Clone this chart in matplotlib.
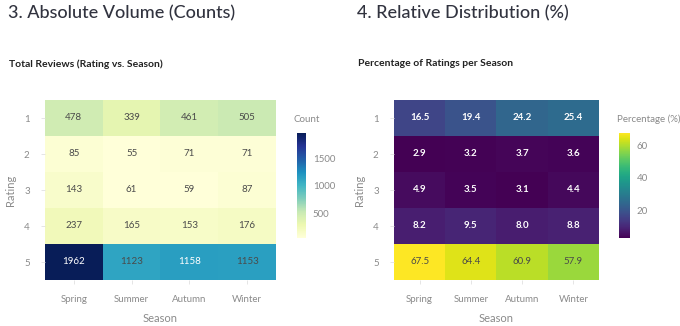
import matplotlib
matplotlib.use("Agg")
import matplotlib.pyplot as plt
import numpy as np

plt.rcParams['font.family'] = ['Lato', 'DejaVu Sans']

seasons = ["Spring", "Summer", "Autumn", "Winter"]
ratings = ["1", "2", "3", "4", "5"]
counts = [
    [478, 339, 461, 505],
    [85, 55, 71, 71],
    [143, 61, 59, 87],
    [237, 165, 153, 176],
    [1962, 1123, 1158, 1153],
]
percents = [
    [16.5, 19.4, 24.2, 25.4],
    [2.9, 3.2, 3.7, 3.6],
    [4.9, 3.5, 3.1, 4.4],
    [8.2, 9.5, 8.0, 8.8],
    [67.5, 64.4, 60.9, 57.9],
]
count_ticks = [500, 1000, 1500]
pct_ticks = [20, 40, 60]

W, H = 680, 326
fig = plt.figure(figsize=(W / 100, H / 100), dpi=100)
fig.patch.set_facecolor("white")

def fx(px):
    return px / W

def fy(py):
    return 1 - py / H

GREY = "#8a8a8a"
DARK = "#4a4a4a"

def heat(ax_rect, cax_rect, data, cmap, fmt, ticks, cbtitle, cbtitle_x, white_fn, bold_white):
    data = np.array(data, dtype=float)
    ax = fig.add_axes(ax_rect)
    vmin, vmax = data.min(), data.max()
    im = ax.imshow(data, cmap=cmap, vmin=vmin, vmax=vmax, aspect="auto",
                   interpolation="nearest")
    ax.set_xticks(range(len(seasons)))
    ax.set_xticklabels(seasons)
    ax.set_yticks(range(len(ratings)))
    ax.set_yticklabels(ratings)
    ax.tick_params(axis="both", colors="#e0e0e0", labelcolor=GREY, labelsize=7,
                   length=3, width=0.6)
    ax.tick_params(axis="x", pad=8)
    ax.tick_params(axis="y", pad=8)
    for s in ax.spines.values():
        s.set_visible(False)
    ax.set_xlabel("Season", color=GREY, fontsize=8, labelpad=6)
    ax.set_ylabel("Rating", color=GREY, fontsize=8, labelpad=6)
    for i in range(data.shape[0]):
        for j in range(data.shape[1]):
            v = data[i, j]
            n = (v - vmin) / (vmax - vmin)
            w = white_fn(n)
            ax.text(j, i, fmt(v), ha="center", va="center", fontsize=7,
                    color="white" if w else DARK,
                    fontweight="bold" if (w and bold_white) else "normal")
    cax = fig.add_axes(cax_rect)
    cb = fig.colorbar(im, cax=cax, ticks=ticks)
    cb.outline.set_visible(False)
    cax.tick_params(length=0, labelsize=7, labelcolor=GREY, pad=5)
    fig.text(cbtitle_x, fy(119), cbtitle, color=GREY, fontsize=7,
             ha="left", va="center")
    return ax

# Left panel
heat([fx(45), fy(280), fx(276 - 45), (280 - 100) / H],
     [fx(297), fy(238), fx(9), 105 / H],
     counts, "YlGnBu", lambda v: f"{int(v)}", count_ticks, "Count", fx(293),
     lambda n: n > 0.577, False)

# Right panel
heat([fx(394), fy(280), fx(599 - 394), (280 - 100) / H],
     [fx(619), fy(238), fx(11), 105 / H],
     percents, "viridis", lambda v: f"{v:.1f}", pct_ticks, "Percentage (%)", fx(617),
     lambda n: n < 0.6, True)

fig.text(fx(8), fy(13), "3. Absolute Volume (Counts)", fontsize=13,
         color="#31333f", ha="left", va="center", fontweight="medium")
fig.text(fx(357), fy(13), "4. Relative Distribution (%)", fontsize=13,
         color="#31333f", ha="left", va="center", fontweight="medium")
fig.text(fx(9), fy(64), "Total Reviews (Rating vs. Season)", fontsize=7.5,
         fontweight="bold", color="#222222", ha="left", va="center")
fig.text(fx(358), fy(64), "Percentage of Ratings per Season", fontsize=7.5,
         fontweight="bold", color="#222222", ha="left", va="center")

fig.savefig("out.png", dpi=100, facecolor="white")
